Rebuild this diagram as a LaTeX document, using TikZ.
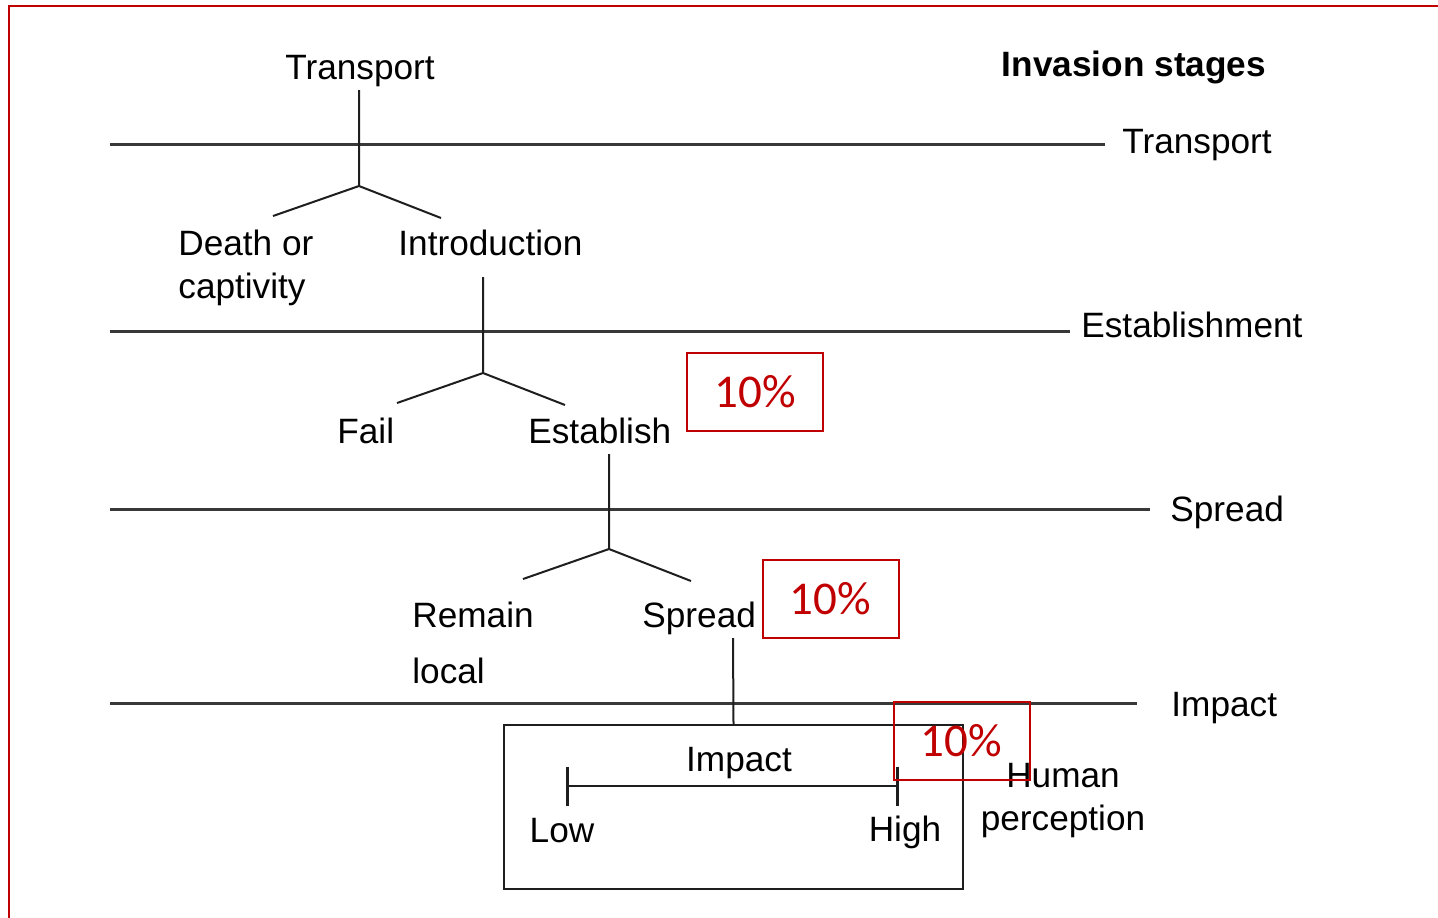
\documentclass[tikz,border=0pt]{standalone}
\usepackage{fontspec}
\setmainfont{Liberation Sans}
\newfontfamily\pctfont{Carlito}
\usepackage{tikz}
\usetikzlibrary{arrows.meta,positioning}
\definecolor{pcred}{HTML}{C00000}
\definecolor{stagegray}{HTML}{383838}
\definecolor{treeblack}{HTML}{1E1E1E}

\begin{document}
\begin{tikzpicture}[x=0.5pt,y=-0.5pt,font={\fontsize{17.6}{21.5}\selectfont}]
    \tikzstyle{lbl}=[inner sep=0pt,anchor=base west,text=black]
    \tikzstyle{stage}=[line width=1.5pt,draw=stagegray]
    \tikzstyle{tree}=[line width=1pt,draw=treeblack]
    \tikzstyle{pct}=[draw=pcred,line width=1pt,text=pcred,minimum width=68pt,minimum height=39pt,inner sep=0pt,font={\pctfont\fontsize{23.5}{28}\selectfont}]
    \useasboundingbox (0,0) rectangle (1438,917);
    \draw[pcred,line width=1pt] (9,925) -- (9,6) -- (1445,6);
    \node[lbl,anchor=base,font={\fontsize{17.6}{21.5}\selectfont\bfseries}] (title) at (1134,76) {Invasion stages};
    \foreach \i/\y/\xe in {1/144/1105,2/331/1070,3/509/1150,4/703/1137} {
      \coordinate (sa\i) at (110,\y);
      \coordinate (sb\i) at (\xe,\y);
      \draw[stage] (sa\i) -- (sb\i);
    }
    \node[lbl] (stTransport) at (1122,153) {Transport};
    \node[lbl] (stEstab)     at (1081,337) {Establishment};
    \node[lbl] (stSpread)    at (1170,521) {Spread};
    \node[lbl] (stImpact)    at (1171,716) {Impact};
    \node[lbl,anchor=base] (transport) at (360,79) {Transport};
    \node[lbl,align=left] (death)  at (178,298) {Death or\\captivity};
    \node[lbl] (intro)  at (398,255) {Introduction};
    \node[lbl] (fail)   at (337,443) {Fail};
    \node[lbl] (estab)  at (528,443) {Establish};
    \node[lbl,align=left] (remain) at (412,683) {Remain\\[6.5pt]local};
    \node[lbl] (spread) at (642,627) {Spread};
    \foreach \n/\x/\yt/\yj in {1/359/90/186,2/483/277/373,3/609/454/549} {
      \coordinate (top\n) at (\x,\yt);
      \coordinate (fork\n) at (\x,\yj);
      \draw[tree] (top\n) -- (fork\n) -- ++(-86,30) (fork\n) -- ++(82,32);
    }
    \node[draw=treeblack,line width=1.2pt,minimum width=229.5pt,minimum height=82pt,inner sep=0pt] (impbox) at (733.5,807) {};
    \coordinate (top4) at (733,638);
    \draw[tree] (top4) -- (impbox.north);
    \node[lbl,anchor=base] (impact) at (739,771) {Impact};
    \coordinate (lo) at (566,786);
    \coordinate (hi) at (899,786);
    \draw[tree,{Bar[width=19.5pt,line width=1.3pt]}-{Bar[width=19.5pt,line width=1.3pt]}] (lo) -- (hi);
    \node[lbl,anchor=base] (low)  at (562,842) {Low};
    \node[lbl,anchor=base] (high) at (905,841) {High};
    \node[lbl,anchor=base,align=center] (human) at (1063,830) {Human\\perception};
    \node[pct] (pct1) at (755,392) {10\%};
    \node[pct] (pct2) at (830.5,598.5) {10\%};
    \node[pct] (pct3) at (961.5,740.5) {10\%};
  \end{tikzpicture}
\end{document}
